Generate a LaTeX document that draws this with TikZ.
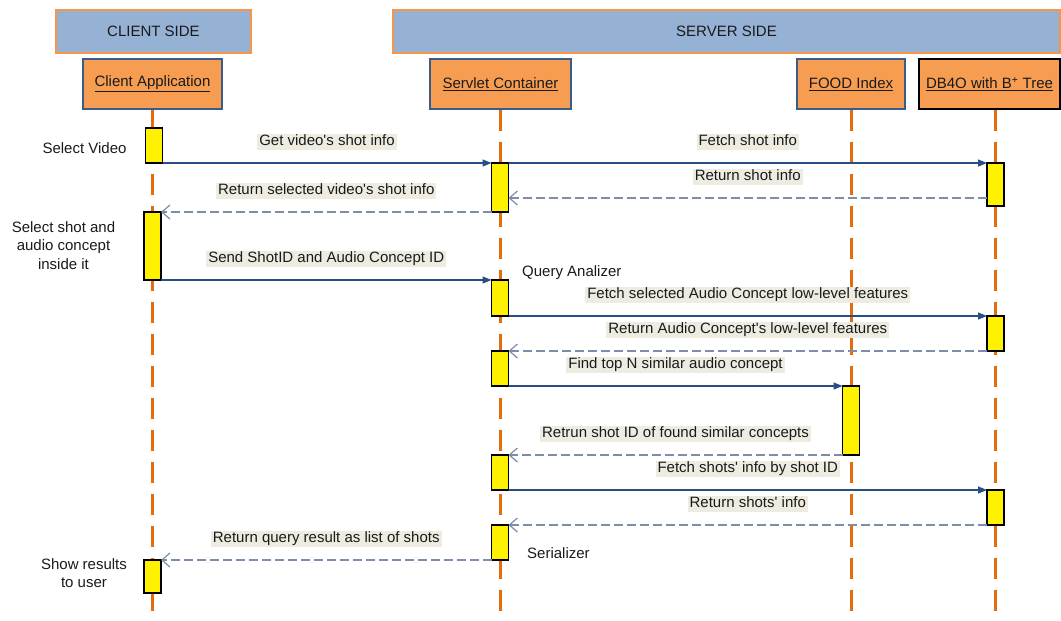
\documentclass[tikz,border=0pt]{standalone}
\usepackage{fontspec}
\setmainfont{Liberation Sans}[Ligatures=TeXOff]
\usetikzlibrary{arrows.meta,positioning}
\definecolor{sidefill}{HTML}{95B1D3}
\definecolor{sideline}{HTML}{F79646}
\definecolor{partfill}{HTML}{F79D52}
\definecolor{partline}{HTML}{385D8A}
\definecolor{lifeline}{HTML}{E46C0A}
\definecolor{callline}{HTML}{284E84}
\definecolor{replyline}{HTML}{7D8DAA}
\definecolor{lblbg}{HTML}{EEECE1}
\definecolor{txt}{HTML}{1A1A1A}

\begin{document}
\begin{tikzpicture}[
    x=1pt, y=-1pt,
    every node/.style={font=\fontsize{15}{18.5}\selectfont, text=txt},
    side/.style={rectangle, draw=sideline, line width=1.2pt, fill=sidefill, minimum height=43pt},
    part/.style={rectangle, draw=partline, line width=1.2pt, fill=partfill, minimum height=50pt},
    life/.style={draw=lifeline, line width=3pt, dash pattern=on 21pt off 11pt},
    act/.style={rectangle, draw=black, line width=1.2pt, fill=yellow, minimum width=17pt, inner sep=0pt, outer sep=0pt, anchor=north},
    call/.style={-{Triangle[length=9pt,width=7pt]}, draw=callline, line width=1.2pt},
    reply/.style={-{Straight Barb[length=8pt,width=14pt]}, draw=replyline, line width=1.2pt, dash pattern=on 9pt off 4pt},
    lbl/.style={fill=lblbg, inner xsep=2pt, inner ysep=1pt, text height=11pt, text depth=3.5pt, midway, yshift=21pt},
    note/.style={align=center, inner sep=1pt}
]
\useasboundingbox (0,0) rectangle (1061,621);
\coordinate (bot) at (0,621);

% headers
\node[side, minimum width=195pt] (cs) at (153.5,31.5) {CLIENT SIDE};
\node[side, minimum width=667pt] (ss) at (726.5,31.5) {SERVER SIDE};

% participants
\node[part, minimum width=139pt] (cli) at (152.5,84) {\underline{Client Application}};
\node[part, minimum width=141pt] (srv) at (500.5,84) {\underline{Servlet Container}};
\node[part, minimum width=108pt] (food) at (851,84) {\underline{FOOD Index}};
\node[part, minimum width=141pt, draw=black] (db) at (989.5,84) {\underline{DB4O with B\textsuperscript{+} Tree}};

% lifelines
\draw[life] (cli.south) -- (cli.south |- bot);
\draw[life] (srv.south) -- (srv.south |- bot);
\draw[life] (food.south) -- (food.south |- bot);
\draw[life] ([xshift=5.5pt]db.south) -- ([xshift=5.5pt]db.south |- bot);

% activations
\node[act, minimum height=35pt] (c1) at (154,128) {};
\node[act, minimum height=68pt] (c2) at (152.5,212) {};
\node[act, minimum height=33pt] (c3) at (152.5,560) {};
\node[act, minimum height=49pt] (s1) at (500,163) {};
\node[act, minimum height=36pt] (s2) at (500,280) {};
\node[act, minimum height=35pt] (s3) at (500,351) {};
\node[act, minimum height=35pt] (s4) at (500,455) {};
\node[act, minimum height=35pt] (s5) at (500,525) {};
\node[act, minimum height=69pt] (f1) at (851,386) {};
\node[act, minimum height=43pt] (d1) at (995.5,163) {};
\node[act, minimum height=35pt] (d2) at (995.5,316) {};
\node[act, minimum height=35pt] (d3) at (995.5,490) {};

% messages
\draw[call] (c1.south east) -- (s1.north west) node[lbl] {Get video's shot info};
\draw[call] (s1.north east) -- (d1.north west) node[lbl] {Fetch shot info};
\draw[reply] ([yshift=8pt]d1.south west) -- ([yshift=8pt]d1.south west -| s1.east) node[lbl] {Return shot info};
\draw[reply] (s1.south west) -- (c2.north east) node[lbl] {Return selected video's shot info};
\draw[call] (c2.south east) -- (s2.north west) node[lbl] {Send ShotID and Audio Concept ID};
\draw[call] (s2.south east) -- (d2.north west) node[lbl] {Fetch selected Audio Concept low-level features};
\draw[reply] (d2.south west) -- (s3.north east) node[lbl] {Return Audio Concept's low-level features};
\draw[call] (s3.south east) -- (f1.north west) node[lbl] {Find top N similar audio concept};
\draw[reply] (f1.south west) -- (s4.north east) node[lbl] {Retrun shot ID of found similar concepts};
\draw[call] (s4.south east) -- (d3.north west) node[lbl] {Fetch shots' info by shot ID};
\draw[reply] (d3.south west) -- (s5.north east) node[lbl] {Return shots' info};
\draw[reply] (s5.south west) -- (c3.north east) node[lbl] {Return query result as list of shots};

% notes
\node[note] (n1) at (84.5,148) {Select Video};
\node[note] (n2) at (63.5,245.5) {Select shot and\\audio concept\\inside it};
\node[note] (n3) at (84,573) {Show results\\to user};
\node[note, anchor=west] (qa) at (521,273) {Query Analizer};
\node[note, anchor=west] (se) at (526,553) {Serializer};
\end{tikzpicture}
\end{document}
